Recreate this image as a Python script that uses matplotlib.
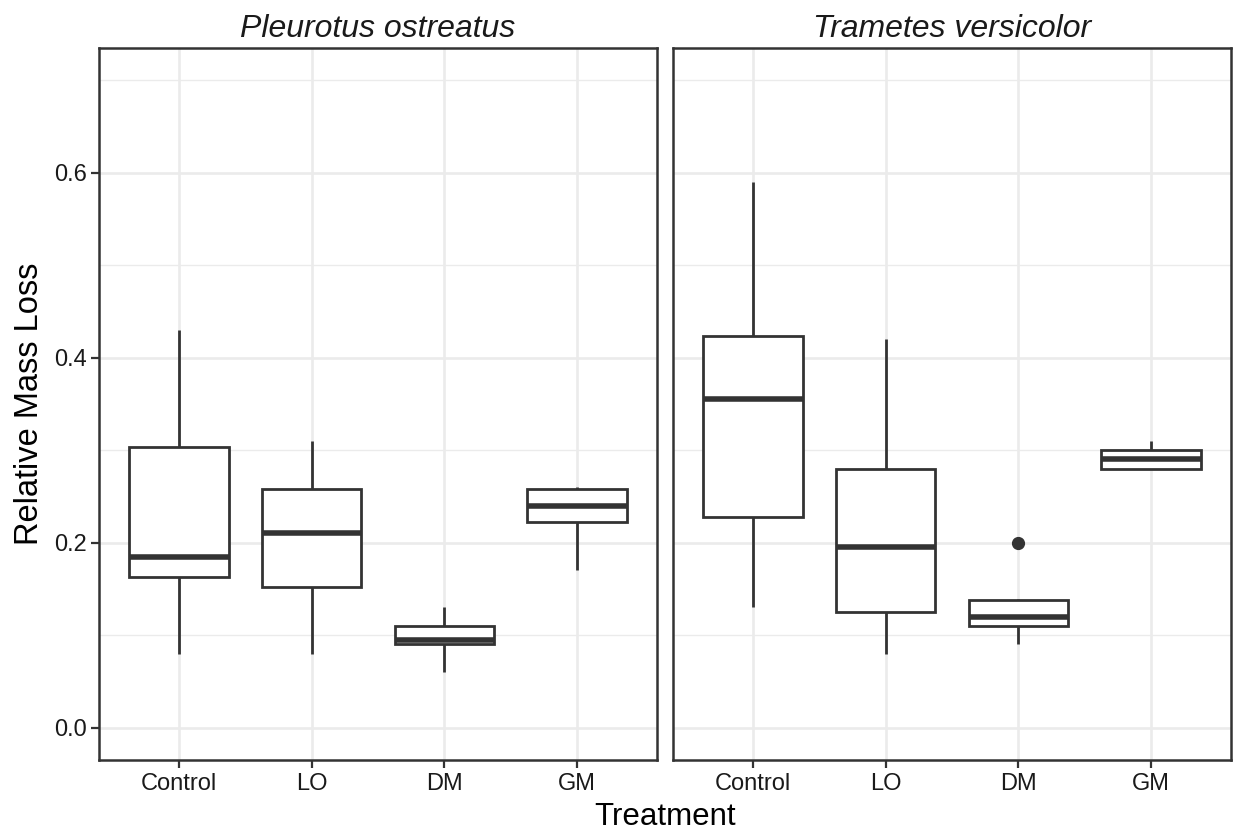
import matplotlib
matplotlib.use("Agg")
import matplotlib.pyplot as plt
from matplotlib.ticker import MultipleLocator

plt.rcParams['font.family'] = ['Liberation Sans', 'DejaVu Sans']

# ---- data ----
treatments = ["Control", "LO", "DM", "GM"]
species = ["Pleurotus ostreatus", "Trametes versicolor"]

# Pleurotus ostreatus
po_whislo = [0.080, 0.080, 0.060, 0.170]
po_q1     = [0.163, 0.152, 0.090, 0.222]
po_med    = [0.185, 0.210, 0.095, 0.240]
po_q3     = [0.303, 0.258, 0.110, 0.258]
po_whishi = [0.430, 0.310, 0.130, 0.260]
po_fliers = [[], [], [], []]

# Trametes versicolor
tv_whislo = [0.130, 0.080, 0.090, 0.280]
tv_q1     = [0.228, 0.125, 0.110, 0.280]
tv_med    = [0.355, 0.195, 0.120, 0.290]
tv_q3     = [0.423, 0.280, 0.138, 0.300]
tv_whishi = [0.590, 0.420, 0.139, 0.310]
tv_fliers = [[], [], [0.200], []]

y_ticks = [0.0, 0.2, 0.4, 0.6]
y_minor = [0.1, 0.3, 0.5, 0.7]
y_limits = (0.0, 0.7)

panels = [
    (po_whislo, po_q1, po_med, po_q3, po_whishi, po_fliers),
    (tv_whislo, tv_q1, tv_med, tv_q3, tv_whishi, tv_fliers),
]

W, H = 1239, 833
fig = plt.figure(figsize=(W / 100, H / 100), dpi=100)
fig.patch.set_facecolor("white")

panel_x = [(99, 657), (673, 1231)]
panel_y = (48, 760)

dark = "#333333"
grid_col = "#EBEBEB"
text_col = "#1A1A1A"

yr = y_limits[1] - y_limits[0]
ylo = y_limits[0] - 0.05 * yr
yhi = y_limits[1] + 0.05 * yr

for i, (px, data) in enumerate(zip(panel_x, panels)):
    x0, x1 = px
    ax = fig.add_axes([x0 / W, 1 - panel_y[1] / H, (x1 - x0) / W, (panel_y[1] - panel_y[0]) / H])
    whislo, q1, med, q3, whishi, fliers = data
    stats = []
    for j, t in enumerate(treatments):
        stats.append(dict(label=t, whislo=whislo[j], q1=q1[j], med=med[j],
                          q3=q3[j], whishi=whishi[j], fliers=fliers[j]))
    positions = list(range(1, len(treatments) + 1))
    ax.bxp(stats, positions=positions, widths=0.75, showcaps=False,
           patch_artist=True,
           boxprops=dict(facecolor="white", edgecolor=dark, linewidth=2.0),
           whiskerprops=dict(color=dark, linewidth=2.0, solid_capstyle="butt"),
           medianprops=dict(color=dark, linewidth=4.0, solid_capstyle="butt"),
           flierprops=dict(marker="o", markerfacecolor=dark, markeredgecolor=dark,
                           markersize=8.5),
           zorder=3)
    ax.set_xlim(0.4, len(treatments) + 0.6)
    ax.set_ylim(ylo, yhi)
    ax.set_xticks(positions)
    ax.set_xticklabels(treatments)
    ax.set_yticks(y_ticks)
    ax.set_yticks(y_minor, minor=True)
    ax.grid(which="major", axis="both", color=grid_col, linewidth=1.9, zorder=0)
    ax.grid(which="minor", axis="y", color=grid_col, linewidth=1.0, zorder=0)
    ax.set_axisbelow(True)
    for s in ax.spines.values():
        s.set_color(dark)
        s.set_linewidth(1.8)
        s.set_zorder(5)
    ax.tick_params(axis="both", which="major", length=5.5, width=1.6, color=dark,
                   labelsize=17, labelcolor=text_col, pad=3)
    ax.tick_params(axis="y", which="minor", length=0)
    ax.tick_params(axis="x", pad=4)
    if i == 1:
        ax.tick_params(axis="y", which="both", labelleft=False, length=0)
    ax.set_title(species[i], fontsize=23, style="italic", color=text_col, pad=8)

fig.text((99 + 1231) / 2 / W, 1 - 817 / H, "Treatment", ha="center", va="center",
         fontsize=22.5, color="black")
fig.text(30 / W, 1 - ((48 + 760) / 2) / H, "Relative Mass Loss", ha="center", va="center",
         rotation=90, fontsize=23.5, color="black")

fig.savefig("out.png", dpi=100, facecolor="white")
